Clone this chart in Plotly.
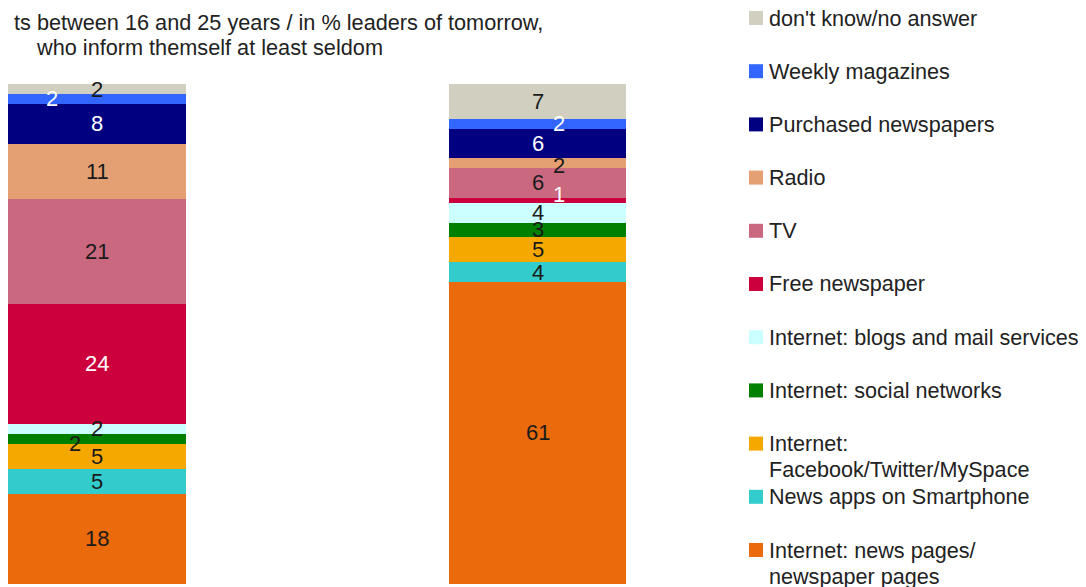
import plotly.graph_objects as go

categories = ["Students 16-25", "Leaders of tomorrow"]
series = [
    "Internet: news pages/<br>newspaper pages",
    "News apps on Smartphone",
    "Internet:<br>Facebook/Twitter/MySpace",
    "Internet: social networks",
    "Internet: blogs and mail services",
    "Free newspaper",
    "TV",
    "Radio",
    "Purchased newspapers",
    "Weekly magazines",
    "don't know/no answer",
]
students = [18, 5, 5, 2, 2, 24, 21, 11, 8, 2, 2]
leaders = [61, 4, 5, 3, 4, 1, 6, 2, 6, 2, 7]
colors = ["#EA6A0C", "#33CCCC", "#F5A800", "#008000", "#CCFFFF", "#CC003D",
          "#CA6880", "#E4A073", "#000080", "#3366FF", "#D0CFC0"]
label_colors = ["#1a1a1a", "#1a1a1a", "#1a1a1a", "#1a1a1a", "#1a1a1a", "white",
                "#1a1a1a", "#1a1a1a", "white", "white", "#1a1a1a"]
title_lines = ["ts between 16 and 25 years / in % leaders of tomorrow,",
               "who inform themself at least seldom"]

OFF = 8  # default page body margin
W, H = 1086 - OFF, 587 - OFF
FONT = "Liberation Sans"
FS = 22
LFS = 21.6
TXT = "#222222"


def px(x):
    return (x - OFF) / W


def py(y):
    return 1 - (y - OFF) / H


values = [students, leaders]

fig = go.Figure()
for i, name in enumerate(series):
    fig.add_trace(go.Bar(
        x=categories, y=[students[i], leaders[i]], name=name,
        marker=dict(color=colors[i], line=dict(width=0)),
        width=0.404, hoverinfo="name+y",
    ))

# manual offsets for small segment labels (pixels)
offsets = {(0, 9): (-45, 0), (0, 3): (-22, -5), (1, 9): (21, 0), (1, 7): (21, -2), (1, 5): (21, 6)}

annotations = []
for b, vals in enumerate(values):
    total = sum(vals)
    cum = 0.0
    for i, v in enumerate(vals):
        norm = v * 100.0 / total
        mid = cum + norm / 2
        cum += norm
        dx, dy = offsets.get((b, i), (0, 0))
        annotations.append(dict(
            x=categories[b], y=mid, xref="x", yref="y", text=str(v), showarrow=False,
            font=dict(family=FONT, size=FS, color=label_colors[i]),
            xshift=dx, yshift=dy,
        ))

# title
annotations.append(dict(x=px(545), y=py(22), xref="paper", yref="paper", xanchor="right",
                        yanchor="middle", text=title_lines[0], showarrow=False,
                        font=dict(family=FONT, size=21.7, color=TXT)))
annotations.append(dict(x=px(34), y=py(48), xref="paper", yref="paper", xanchor="left",
                        yanchor="middle", text=title_lines[1], showarrow=False,
                        font=dict(family=FONT, size=21.7, color=TXT)))

# manual legend (top to bottom = reverse stacking order)
shapes = []
for k, i in enumerate(reversed(range(len(series)))):
    cy = 18 + 53.2 * k
    shapes.append(dict(type="rect", xref="paper", yref="paper",
                       x0=px(749), x1=px(763), y0=py(cy - 7), y1=py(cy + 7),
                       fillcolor=colors[i], line=dict(width=0)))
    for j, line in enumerate(series[i].split("<br>")):
        annotations.append(dict(
            x=px(767), y=py(cy + 26 * j), xref="paper", yref="paper",
            xanchor="left", yanchor="middle", align="left",
            text=line, showarrow=False, font=dict(family=FONT, size=LFS, color=TXT),
        ))

px_per_cat = 440.5
x0 = -(97 - OFF) / px_per_cat
ppu = (583.7 - 84) / 100.0
bottom = 583.7 - OFF
fig.update_layout(
    width=W, height=H, margin=dict(l=0, r=0, t=0, b=0),
    paper_bgcolor="white", plot_bgcolor="white",
    barmode="stack", barnorm="percent", showlegend=False,
    xaxis=dict(visible=False, range=[x0, x0 + W / px_per_cat]),
    yaxis=dict(visible=False, range=[-(H - bottom) / ppu, bottom / ppu]),
    annotations=annotations, shapes=shapes,
)
fig.write_html("out.html")
